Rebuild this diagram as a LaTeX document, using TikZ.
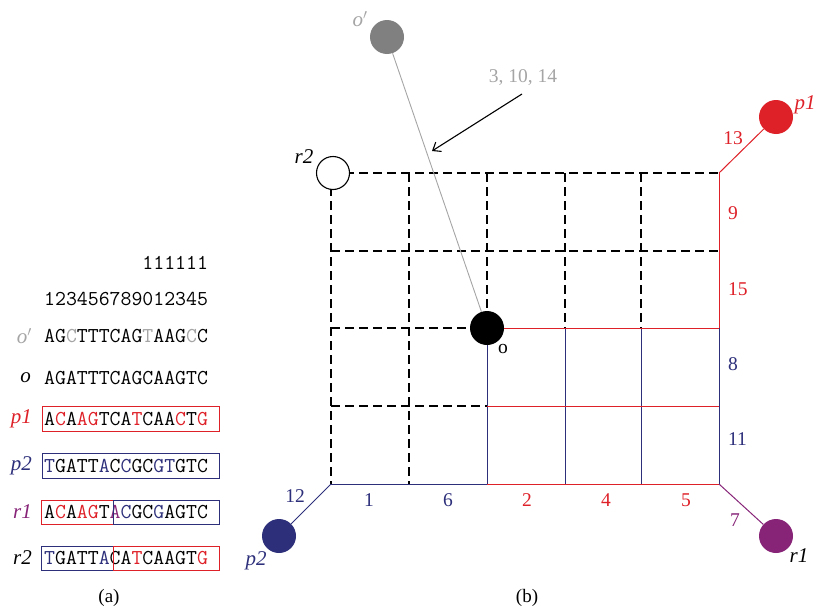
\documentclass[tikz,border=0pt]{standalone}
\usepackage{fontspec}
\setmainfont{Liberation Serif}
\usetikzlibrary{arrows.meta}
\definecolor{cred}{RGB}{222,32,40}
\definecolor{cblue}{RGB}{45,47,122}
\definecolor{cpurple}{RGB}{135,36,120}
\definecolor{cgray}{RGB}{128,128,128}
\definecolor{lgray}{RGB}{165,165,165}
\newcommand{\rc}[1]{\textcolor{cred}{#1}}
\newcommand{\bc}[1]{\textcolor{cblue}{#1}}
\newcommand{\pc}[1]{\textcolor{cpurple}{#1}}
\newcommand{\gc}[1]{\textcolor{lgray}{#1}}
\begin{document}
\begin{tikzpicture}[x=1pt,y=-1pt,
  seq/.style={font=\fontsize{21.2}{24}\selectfont\ttfamily, anchor=west, inner sep=0},
  lab/.style={font=\fontsize{21}{24}\selectfont\itshape, anchor=east, inner sep=0},
  num/.style={font=\fontsize{19.5}{22}\selectfont, inner sep=0},
  captxt/.style={font=\fontsize{19}{22}\selectfont, inner sep=0},
  dsh/.style={dash pattern=on 9pt off 5pt, line width=1.2pt, black},
  rl/.style={cred, line width=1pt},
  bl/.style={cblue, line width=1pt},
  dot/.style={circle, minimum size=34pt, inner sep=0}]
\useasboundingbox (0,0) rectangle (816,613);
% ---------- left panel ----------
\node[seq] (s0) at (44,263) {\hphantom{123456789}111111};
\node[seq] (s1) at (44,299) {123456789012345};
\node[seq] (so1) at (44,336) {AG\gc{C}TTTCAG\gc{T}AAG\gc{C}C};
\node[seq] (so) at (44,378) {AGATTTCAGCAAGTC};
\node[seq] (sp1) at (44,419) {A\rc{C}A\rc{AG}TCA\rc{T}CAA\rc{C}T\rc{G}};
\node[seq] (sp2) at (44,466) {\bc{T}GATT\bc{A}C\bc{C}GC\bc{GT}GTC};
\node[seq] (sr1) at (44,512) {A\rc{C}A\rc{AG}T\pc{A}\bc{C}GC\bc{G}AGTC};
\node[seq] (sr2) at (44,558) {\bc{T}GATT\bc{A}CA\rc{T}CAAGT\rc{G}};
\node[lab] (lo1) at (32,336) {\gc{o$'$}};
\node[lab] (lo) at (31,378) {o};
\node[lab] (lp1) at (32,419) {\rc{p1}};
\node[lab] (lp2) at (32,466) {\bc{p2}};
\node[lab] (lr1) at (32,512) {\pc{r1}};
\node[lab] (lr2) at (32,558) {r2};
\draw[cred, line width=1pt] (42,406.5) rectangle (219,431.5);
\draw[cblue, line width=1pt] (42,453.5) rectangle (219,478.5);
\draw[cred, line width=1pt] (41,500) rectangle (113,524);
\draw[cblue, line width=1pt] (113,500) rectangle (219,524);
\draw[cblue, line width=1pt] (41,546) rectangle (113,570);
\draw[cred, line width=1pt] (113,546) rectangle (219,570);
\node[captxt] (ca) at (109,598) {(a)};
% ---------- right panel ----------
\foreach \i/\x in {0/331,1/409,2/487,3/565,4/641,5/719}
  \foreach \j/\y in {0/173,1/251,2/328,3/406,4/484}
    \coordinate (g\i\j) at (\x,\y);
% dashed part
\draw[dsh] (g00) -- (g50);
\draw[dsh] (g01) -- (g51);
\draw[dsh] (g02) -- (g22);
\draw[dsh] (g03) -- (g23);
\draw[dsh] (g00) -- (g04);
\draw[dsh] (g10) -- (g14);
\draw[dsh] (g20) -- (g22);
\draw[dsh] (g30) -- (g32);
\draw[dsh] (g40) -- (g42);
% blue part
\draw[bl] (g22) -- (g24);
\draw[bl] (g32) -- (g34);
\draw[bl] (g42) -- (g44);
\draw[bl] (g52) -- (g54);
\draw[bl] (g04) -- (g24);
% red part
\draw[rl] (g50) -- (g52);
\draw[rl] (g22) -- (g52);
\draw[rl] (g23) -- (g53);
\draw[rl] (g24) -- (g54);
% outer nodes
\node[dot, fill=cgray] (no1) at (387,37) {};
\node[dot, fill=black] (no) at (g22) {};
\node[dot, fill=cred] (np1) at (776,117) {};
\node[dot, fill=cblue] (np2) at (279,536) {};
\node[dot, fill=cpurple] (nr1) at (776,536) {};
\draw[lgray, line width=0.9pt] (no1) -- (no);
\draw[rl] (g50) -- (np1);
\draw[bl] (g04) -- (np2);
\draw[cpurple, line width=1pt] (g54) -- (nr1);
\node[dot, draw=black, fill=white, line width=1.1pt, minimum size=33pt] (nr2) at (333,173) {};
% node labels
\node[lab, anchor=center] (to1) at (360,19) {\gc{o$'$}};
\node[lab, anchor=center] (tr2) at (304,157) {r2};
\node[lab, anchor=center] (tp1) at (805,105) {\rc{p1}};
\node[lab, anchor=center] (tp2) at (256,561) {\bc{p2}};
\node[lab, anchor=center] (tr1) at (799,556) {r1};
\node[num] (too) at (503,349) {o};
% edge numbers
\node[num, text=cred] (e13) at (733,138) {13};
\node[num, text=cblue] (e12) at (295,496) {12};
\node[num, text=cpurple] (e7) at (735,520) {7};
\node[num, text=cblue] (e1) at (369,500) {1};
\node[num, text=cblue] (e6) at (448,500) {6};
\node[num, text=cred] (e2) at (527,500) {2};
\node[num, text=cred] (e4) at (606,500) {4};
\node[num, text=cred] (e5) at (686,500) {5};
\node[num, text=cred, anchor=west] (e9) at (728,213) {9};
\node[num, text=cred, anchor=west] (e15) at (728,289) {15};
\node[num, text=cblue, anchor=west] (e8) at (728,364) {8};
\node[num, text=cblue, anchor=west] (e11) at (728,439) {11};
% annotation arrow
\node[num, text=lgray] (ann) at (523,78) {3, 10, 14};
\coordinate (as) at (522,94);
\coordinate (ae) at (432,151);
\draw[line width=1.1pt, -{Straight Barb[length=7pt,width=11pt]}] (as) -- (ae);
\node[captxt] (cb) at (527,598) {(b)};
\end{tikzpicture}
\end{document}
